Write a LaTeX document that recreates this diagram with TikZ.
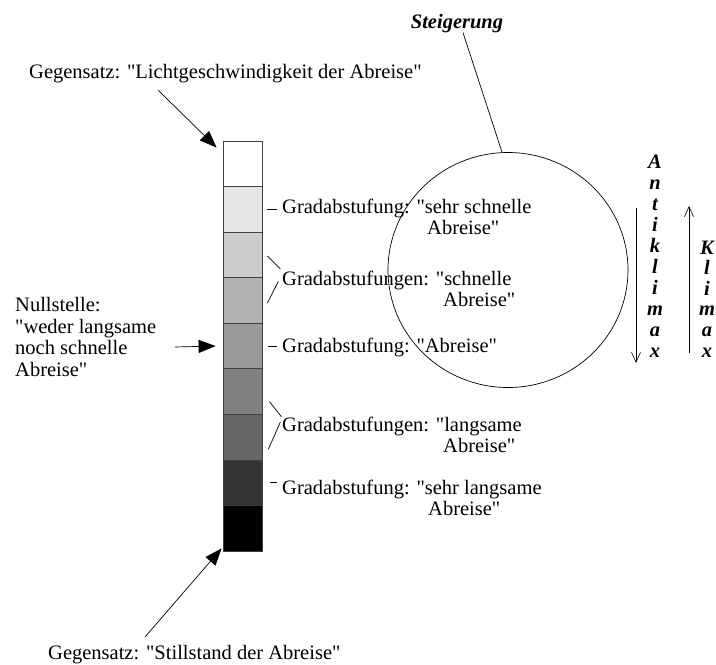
\documentclass[tikz,border=0pt]{standalone}
\usepackage{fontspec}
\setmainfont{Liberation Serif}[Ligatures=TeXOff]
\usetikzlibrary{arrows.meta,shapes.geometric}

\begin{document}
\begin{tikzpicture}[
x=1pt, y=-1pt,
font=\fontsize{20.5}{21.5}\selectfont,
feld/.style={draw=black!75, line width=0.8pt, minimum width=39pt, minimum height=45.56pt, inner sep=0pt},
txt/.style={inner sep=0pt, anchor=base west, align=left},
fett/.style={font=\fontsize{20.5}{21.5}\selectfont\bfseries\itshape, inner sep=0pt, anchor=base},
pfeil/.style={-{Triangle[length=17pt, width=13pt]}, line width=0.7pt},
strich/.style={line width=0.7pt},
duenn/.style={-{Straight Barb[length=10pt, width=9pt]}, line width=0.6pt}
]
\useasboundingbox (0,0) rectangle (716,665);

% Skala
\foreach \farbe [count=\i] in {white, black!10, black!20, black!30, black!40, black!50, black!60, black!80, black}
  \node[feld, fill=\farbe] (s\i) at (242.5, 141+45.56*\i-22.78) {};

% Beschriftungen (base = letzte Zeile)
\node[txt] (oben) at (29,78) {Gegensatz: "Lichtgeschwindigkeit der Abreise"};
\node[txt] (unten) at (48,659) {Gegensatz: "Stillstand der Abreise"};
\node[txt] (null) at (15,376) {Nullstelle:\\"weder langsame\\noch schnelle\\Abreise"};
\node[txt] (g1) at (282,234.5) {Gradabstufung: "sehr schnelle\\\hspace*{145pt}Abreise"};
\node[txt] (g2) at (282,306.5) {Gradabstufungen: "schnelle\\\hspace*{161pt}Abreise"};
\node[txt] (g3) at (282,352) {Gradabstufung: "Abreise"};
\node[txt] (g4) at (282,452.5) {Gradabstufungen: "langsame\\\hspace*{161pt}Abreise"};
\node[txt] (g5) at (282,515.5) {Gradabstufung: "sehr langsame\\\hspace*{146pt}Abreise"};

% Pfeile zur Skala
\coordinate (p1) at (158,90);
\coordinate (p2) at (175,347);
\coordinate (p3) at (145,637);
\draw[pfeil] (p1) -- ([shift={(-6,7)}]s1.north west);
\draw[pfeil] (p2) -- ([xshift=-7]s5.west);
\draw[pfeil] (p3) -- ([shift={(-1,-3)}]s9.south west);

% Striche
\draw[strich] ([xshift=5]s2.east) -- ([xshift=15]s2.east);
\draw[strich] ([xshift=6]s5.east) -- ([xshift=15]s5.east);
\draw[strich] ([xshift=8]s8.east) -- ([xshift=15]s8.east);
\draw[strich] ([shift={(5,1)}]s3.east) -- ([shift={(18,-9)}]s3.south east);
\draw[strich] ([shift={(16,4)}]s4.north east) -- ([shift={(5,2.5)}]s4.east);
\draw[strich] ([shift={(7,10)}]s6.east) -- ([shift={(19,2)}]s6.south east);
\draw[strich] ([shift={(18,8)}]s7.north east) -- ([shift={(6,12)}]s7.east);

% Steigerung
\node[ellipse, draw, line width=0.7pt, minimum width=240pt, minimum height=235pt] (kreis) at (508,270) {};
\node[fett] (stg) at (457,28) {Steigerung};
\draw[strich] ([xshift=6]stg.south) -- ([xshift=-6]kreis.north);

% Antiklimax / Klimax
\foreach \b [count=\i] in {A,n,t,i,k,l,i,m,a,x}
  \node[fett] (ak\i) at (655, 168+21.1*\i-21.1) {\b};
\foreach \b [count=\i] in {K,l,i,m,a,x}
  \node[fett] (kl\i) at (707, 254+20.6*\i-20.6) {\b};
\coordinate (ab1) at (636,208);
\coordinate (ab2) at (636,363);
\coordinate (auf1) at (689,353);
\coordinate (auf2) at (689,206);
\draw[duenn] (ab1) -- (ab2);
\draw[duenn] (auf1) -- (auf2);
\end{tikzpicture}
\end{document}
